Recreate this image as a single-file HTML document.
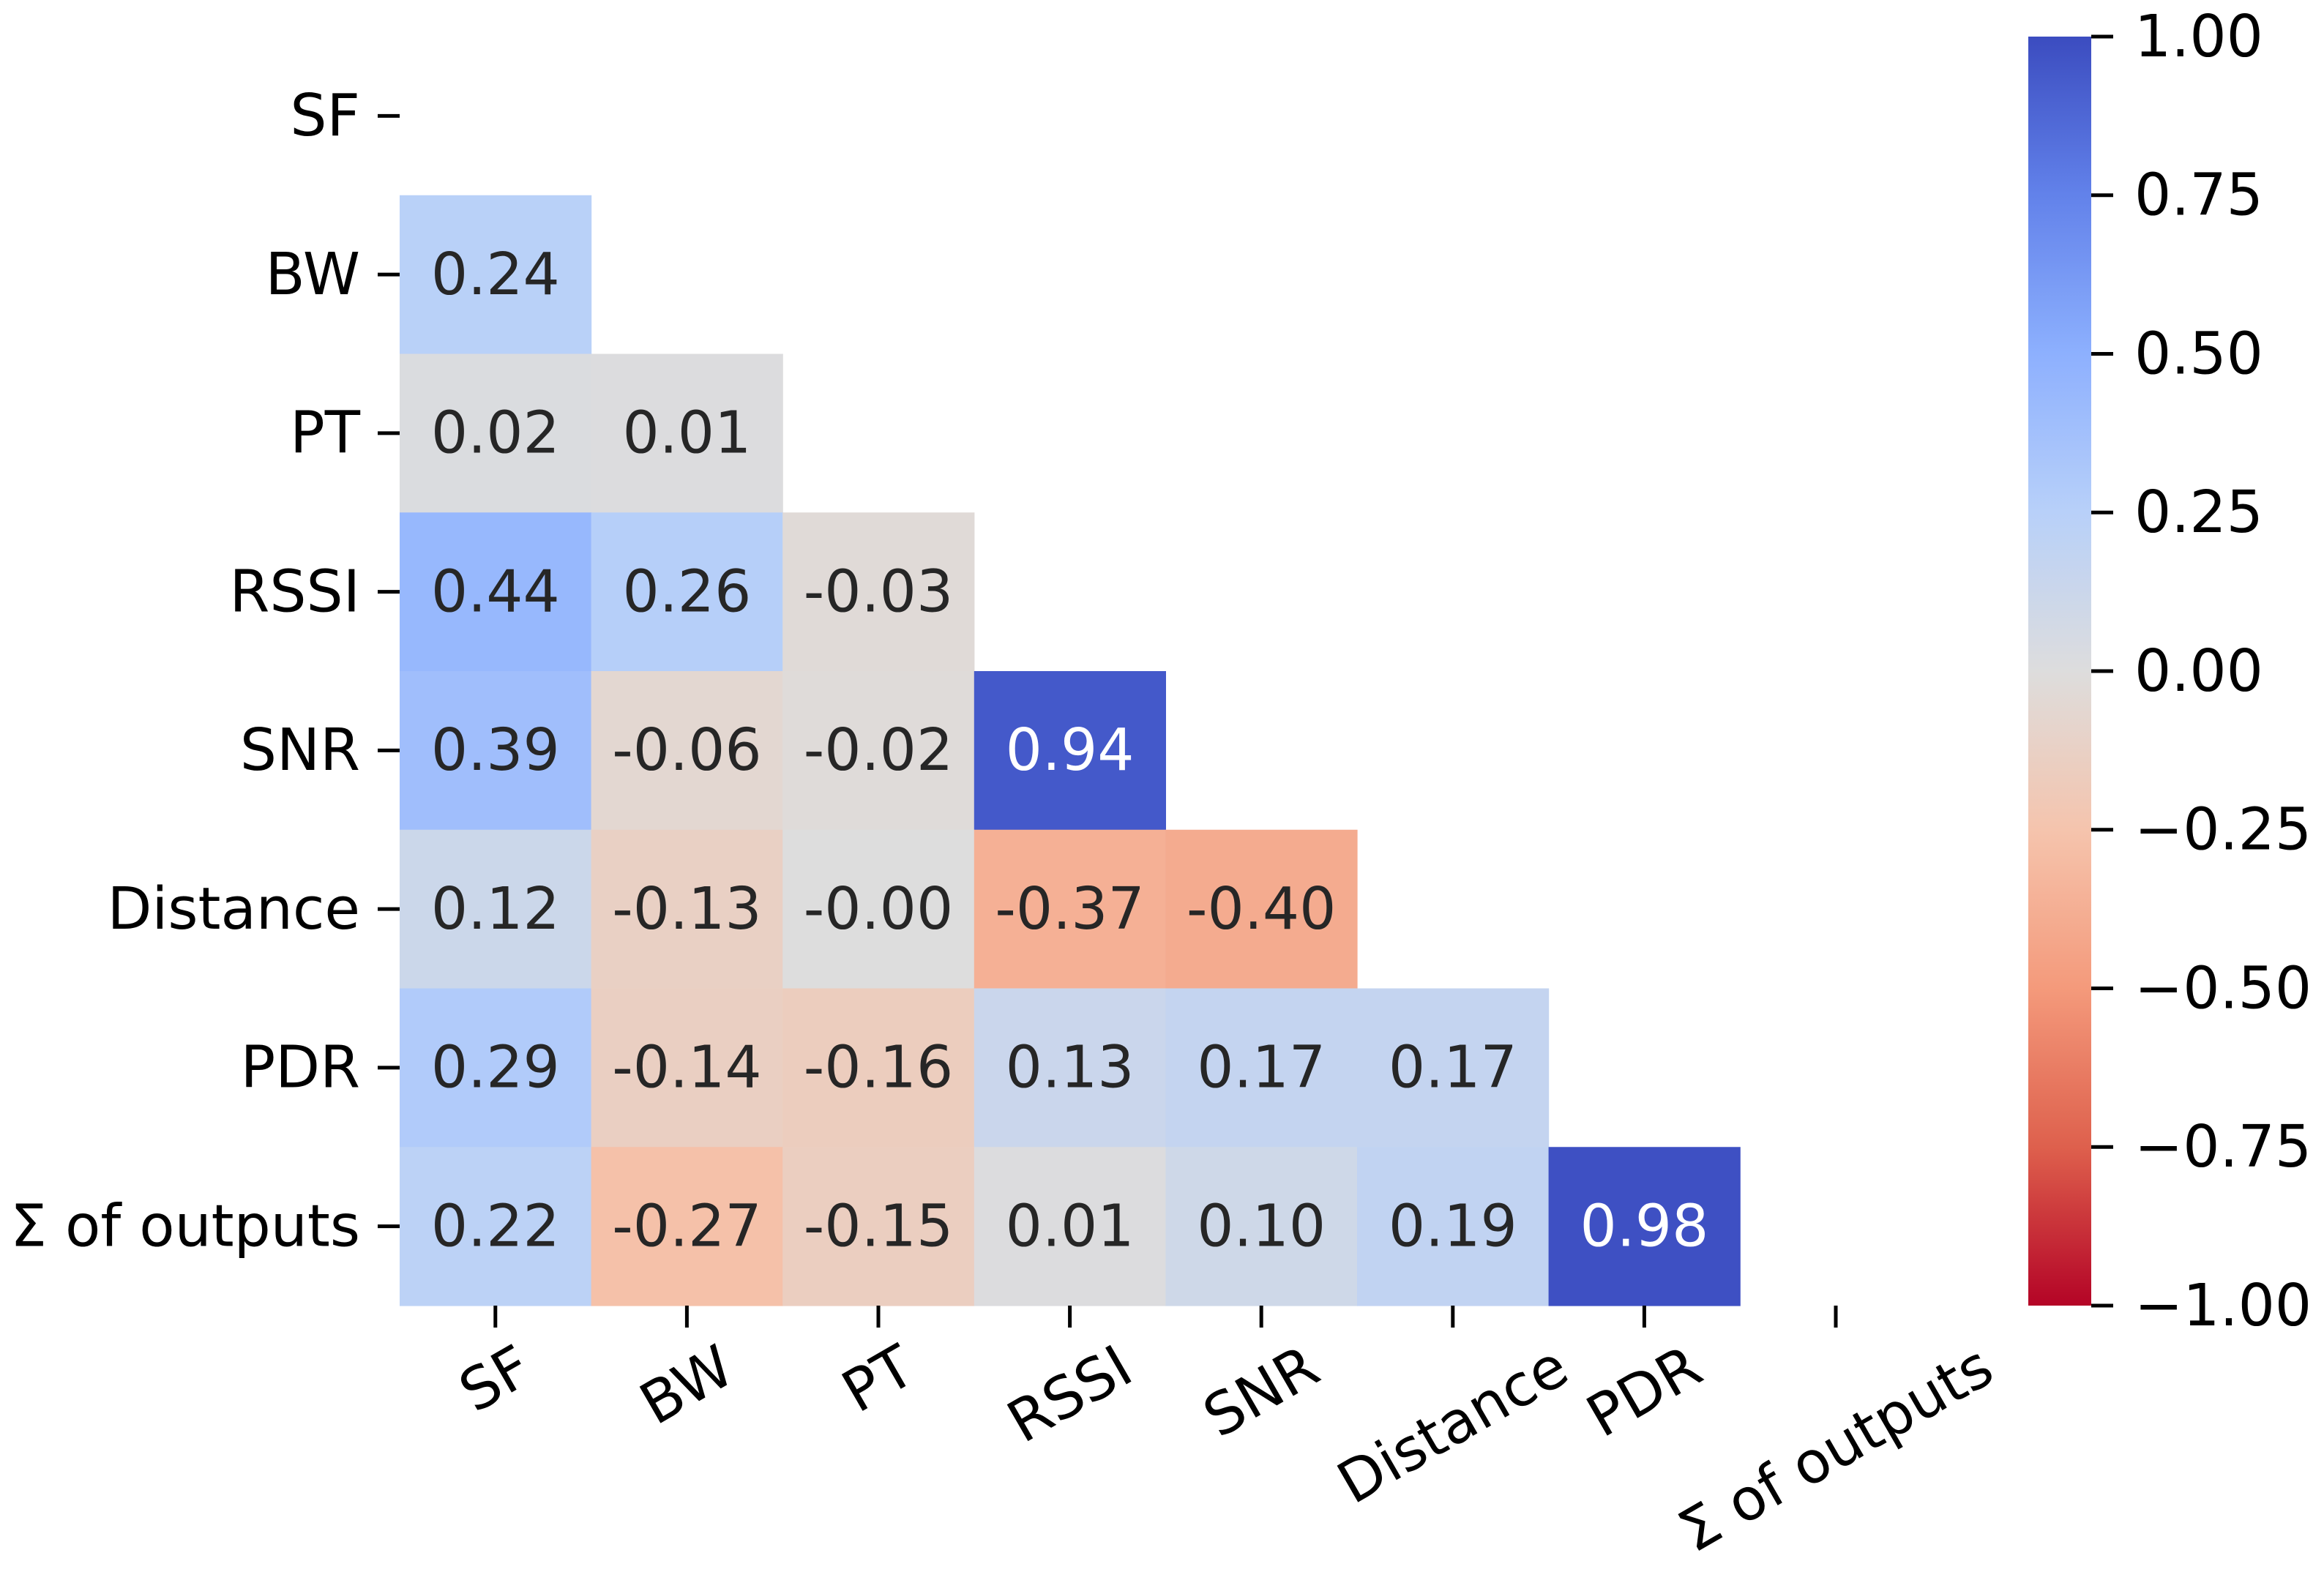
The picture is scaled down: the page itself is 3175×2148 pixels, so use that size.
<!DOCTYPE html>
<html><head><meta charset="utf-8">
<style>
html,body{margin:0;padding:0;background:#fff;}
svg{display:block;font-family:"DejaVu Sans","Liberation Sans",sans-serif;}
</style></head>
<body>
<svg id="chart" width="3175" height="2148" viewBox="0 0 3175 2148" xmlns="http://www.w3.org/2000/svg">
<defs>
<linearGradient id="cbgrad" x1="0" y1="0" x2="0" y2="1"></linearGradient>
</defs>
<rect width="3175" height="2148" fill="#fff"/>
</svg>
<script>
const categories = ["SF","BW","PT","RSSI","SNR","Distance","PDR","\u03A3 of outputs"];
const rowBW = [0.24];
const rowPT = [0.02, 0.01];
const rowRSSI = [0.44, 0.26, -0.03];
const rowSNR = [0.39, -0.06, -0.02, 0.94];
const rowDistance = [0.12, -0.13, -0.001, -0.37, -0.40];
const rowPDR = [0.29, -0.14, -0.16, 0.13, 0.17, 0.17];
const rowSum = [0.22, -0.27, -0.15, 0.01, 0.10, 0.19, 0.98];
const rows = [[], rowBW, rowPT, rowRSSI, rowSNR, rowDistance, rowPDR, rowSum];
const cbTicks = [1.00, 0.75, 0.50, 0.25, 0.00, -0.25, -0.50, -0.75, -1.00];

const NS = "http://www.w3.org/2000/svg";
const svg = document.getElementById("chart");
const L = 546, T = 50, CW = 261.6, RH = 216.75, B = 1784;
const xPos = i => L + i * CW;
const yPos = j => T + j * RH;
const CBX = 2771, CBW = 86;
const cbY = v => T + (1 - v) / 2 * (B - T);
const FS = 79;
const BO = 0.34;

const cw = [[0,59,76,192],[0.125,98,130,234],[0.25,141,176,254],[0.375,184,208,249],[0.5,221,221,221],[0.625,245,196,173],[0.75,244,154,123],[0.875,222,96,77],[1,180,4,38]];
function color(v){
  const t = Math.min(1, Math.max(0, (1 - v) / 2));
  for (let k = 0; k < cw.length - 1; k++) {
    const a = cw[k], b = cw[k+1];
    if (t <= b[0]) {
      const f = (t - a[0]) / (b[0] - a[0]);
      const c = [1,2,3].map(i => Math.round(a[i] + (b[i] - a[i]) * f));
      return "rgb(" + c.join(",") + ")";
    }
  }
  return "rgb(180,4,38)";
}
function mk(tag, attrs, parent){
  const e = document.createElementNS(NS, tag);
  for (const k in attrs) e.setAttribute(k, attrs[k]);
  (parent || svg).appendChild(e);
  return e;
}

rows.forEach((vals, j) => {
  vals.forEach((v, i) => {
    const r = mk("rect", {x: xPos(i), y: yPos(j), width: CW + 0.6, height: RH + 0.6, fill: color(v)});
    
    
    const t = mk("text", {x: xPos(i) + CW/2, y: yPos(j) + RH/2 + FS*BO, "text-anchor": "middle", "font-size": FS, fill: Math.abs(v) > 0.7 ? "#ffffff" : "#262626"});
    t.textContent = v.toFixed(2);
    
    
  });
});

categories.forEach((c, j) => {
  const yc = yPos(j) + RH/2;
  const tk = mk("line", {x1: 516, x2: 546, y1: yc, y2: yc, stroke: "#000", "stroke-width": 5});
  
  
  const t = mk("text", {x: 492, y: yc + FS*BO, "text-anchor": "end", "font-size": FS, fill: "#000"});
  t.textContent = c;
  
  
});

const s30 = Math.sin(Math.PI/6), c30 = Math.cos(Math.PI/6);
categories.forEach((c, i) => {
  const xc = xPos(i) + CW/2;
  const tk = mk("line", {x1: xc, x2: xc, y1: B, y2: B + 30, stroke: "#000", "stroke-width": 5});
  
  
  const t = mk("text", {x: 0, y: 0, "text-anchor": "middle", "font-size": FS, fill: "#000"});
  t.textContent = c;
  
  
  const w = t.getComputedTextLength();
  const h = FS * 0.95;
  const bh = w * s30 + h * c30;
  const cy = B + 30 + 14 + bh/2;
  t.setAttribute("transform", "translate(" + xc + "," + cy + ") rotate(-30) translate(0," + (FS*BO) + ")");
});

const grad = document.getElementById("cbgrad");
for (let k = 0; k <= 40; k++) {
  const v = 1 - k / 20;
  mk("stop", {offset: (k/40), "stop-color": color(v)}, grad);
}
const cb = mk("rect", {x: CBX, y: T, width: CBW, height: B - T, fill: "url(#cbgrad)"});


cbTicks.forEach(v => {
  const y = cbY(v);
  const tk = mk("line", {x1: CBX + CBW, x2: CBX + CBW + 30, y1: y, y2: y, stroke: "#000", "stroke-width": 5});
  
  
  const t = mk("text", {x: 2916, y: y + FS*BO, "font-size": FS, fill: "#000"});
  t.textContent = (v < 0 ? "\u2212" : "") + Math.abs(v).toFixed(2);
  
  
});
</script>
</body></html>
